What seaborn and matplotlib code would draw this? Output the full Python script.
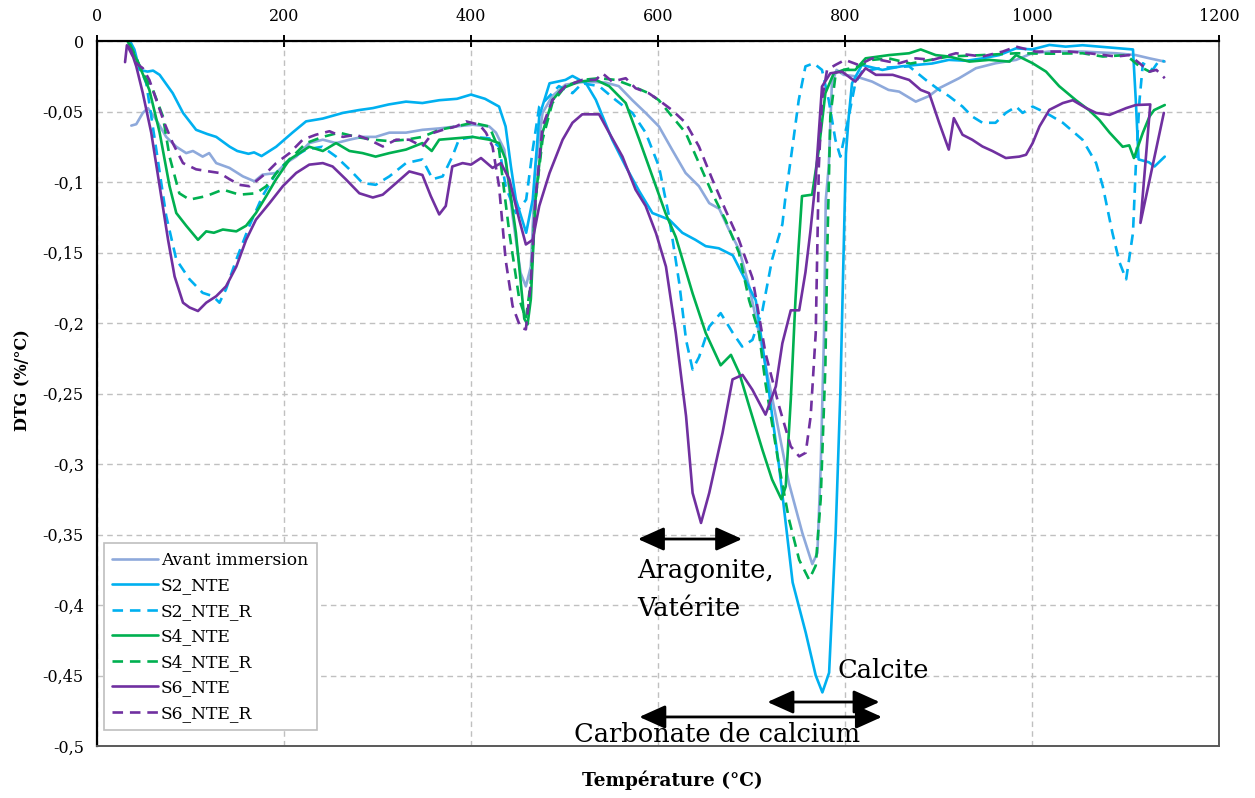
import matplotlib
matplotlib.use("Agg")
import matplotlib.pyplot as plt
from matplotlib.ticker import FuncFormatter
import seaborn as sns
import pandas as pd

# ---------------- data (temperature °C, DTG %/°C) ----------------
avant_immersion = [(36.7,-0.060),(42,-0.059),(49,-0.051),(54.5,-0.0476),(63.4,-0.056),(74,-0.068),(84.8,-0.075),
    (95.4,-0.0795),(102.6,-0.078),(113,-0.082),(120,-0.0795),(127.5,-0.0866),(141.7,-0.090),(156,-0.096),
    (168.4,-0.0995),(177,-0.0948),(191.6,-0.0936),(202,-0.0866),(213,-0.082),(227,-0.0724),(241.5,-0.070),
    (255.7,-0.0724),(270,-0.070),(284,-0.068),(298,-0.068),(312.7,-0.065),(330.5,-0.065),(348,-0.063),
    (366,-0.062),(384,-0.0606),(401.7,-0.0594),(419.5,-0.0606),(426.7,-0.065),(435.6,-0.077),(444.5,-0.124),
    (453,-0.1644),(458.7,-0.174),(464,-0.160),(469,-0.089),(476.5,-0.051),(487,-0.039),(501,-0.031),
    (523,-0.0288),(544,-0.0295),(558,-0.032),(572.6,-0.042),(586.8,-0.051),(601,-0.0606),(615,-0.077),
    (629.5,-0.0936),(643.8,-0.103),(654.8,-0.115),(665.5,-0.119),(675.8,-0.1337),(686.8,-0.148),(697.5,-0.174),
    (711.7,-0.219),(726,-0.266),(740,-0.3135),(754.4,-0.349),(765,-0.371),(770.5,-0.363),(774,-0.302),
    (777.6,-0.207),(779.4,-0.113),(782.6,-0.089),(786,-0.030),(791,-0.0205),(798.6,-0.024),(811,-0.025),
    (829,-0.0288),(846.6,-0.0347),(857.9,-0.0359),(875.7,-0.043),(890,-0.039),(900.7,-0.0335),(922,-0.0264),
    (940,-0.0193),(961,-0.0158),(983,-0.0134),(1000,-0.0087),(1018.6,-0.0075),(1054,-0.0075),(1090,-0.0087),
    (1111,-0.010),(1125.7,-0.0123),(1142,-0.0146)]

s2_nte = [(36,-0.001),(40,-0.006),(45.6,-0.0205),(54,-0.0217),(60,-0.021),(67,-0.024),(81,-0.037),(92,-0.051),
    (106,-0.063),(118,-0.066),(127.5,-0.068),(142,-0.075),(150,-0.078),(162,-0.080),(168,-0.079),(176,-0.0816),
    (191.6,-0.075),(209,-0.065),(223.6,-0.057),(241.5,-0.055),(263,-0.051),(280,-0.049),(295,-0.0476),
    (312,-0.045),(330.5,-0.043),(348,-0.044),(366,-0.042),(385,-0.041),(400,-0.038),(415,-0.041),(430,-0.0465),
    (437,-0.0606),(442.7,-0.089),(448,-0.1125),(459,-0.136),(466,-0.1125),(473,-0.0535),(484,-0.030),
    (501,-0.0276),(508.5,-0.0248),(523,-0.030),(533.5,-0.0417),(551,-0.070),(565.5,-0.089),(580,-0.1066),
    (594,-0.122),(612,-0.1267),(626,-0.136),(640,-0.141),(651,-0.1455),(665,-0.147),(680,-0.152),(690,-0.165),
    (704.6,-0.184),(715,-0.231),(729.5,-0.3017),(744,-0.384),(758,-0.4196),(768.7,-0.450),(775.8,-0.462),
    (783,-0.448),(790,-0.349),(795,-0.25),(798.5,-0.15),(801,-0.08),(804,-0.0535),(807.5,-0.030),(818,-0.017),
    (840,-0.0205),(860,-0.018),(875.7,-0.017),(893,-0.016),(911,-0.0134),(930,-0.014),(947,-0.0123),
    (965,-0.010),(983,-0.0052),(1000,-0.006),(1018.6,-0.0028),(1036,-0.004),(1054,-0.003),(1072,-0.004),
    (1090,-0.005),(1108,-0.006),(1111,-0.042),(1114,-0.084),(1125,-0.086),(1131,-0.089),(1142,-0.082)]

s2_nte_r = [(36,-0.002),(42,-0.012),(52.7,-0.030),(63.4,-0.077),(74,-0.124),(84.8,-0.155),(99,-0.169),
    (113,-0.1786),(124,-0.181),(131,-0.1856),(138,-0.176),(149,-0.155),(163,-0.131),(177,-0.110),
    (191.6,-0.0936),(206,-0.084),(223.6,-0.077),(241,-0.075),(255.7,-0.082),(270,-0.091),(284,-0.1007),
    (298,-0.102),(312.7,-0.096),(330.5,-0.0866),(348,-0.084),(359,-0.098),(369.7,-0.096),(380,-0.082),
    (387,-0.070),(401.7,-0.068),(419.5,-0.069),(430,-0.075),(437,-0.103),(448,-0.122),(459,-0.1125),
    (466,-0.077),(473,-0.0465),(484,-0.039),(494,-0.032),(508.5,-0.037),(519,-0.030),(537,-0.032),
    (555,-0.042),(572.6,-0.051),(586.8,-0.065),(601,-0.089),(611.7,-0.124),(622.8,-0.172),(630,-0.212),
    (637,-0.233),(644,-0.224),(654.8,-0.2026),(667,-0.193),(680,-0.207),(690,-0.2167),(701,-0.212),
    (711.7,-0.191),(722,-0.155),(733,-0.13),(736,-0.1125),(743.4,-0.077),(750.5,-0.042),(757.7,-0.018),
    (766.5,-0.0158),(775.4,-0.0205),(782.6,-0.042),(789.7,-0.070),(795,-0.082),(804,-0.0535),(811,-0.030),
    (818,-0.0217),(840,-0.019),(868.6,-0.018),(886.4,-0.0276),(900.7,-0.0347),(911,-0.039),(925.7,-0.0465),
    (936,-0.0535),(947,-0.058),(961,-0.058),(972,-0.051),(983,-0.0465),(990,-0.051),(1000.7,-0.0465),
    (1015,-0.051),(1033,-0.058),(1054,-0.070),(1068.6,-0.0866),(1075.7,-0.103),(1086,-0.136),(1093.6,-0.157),
    (1100.7,-0.169),(1108,-0.136),(1111,-0.089),(1115,-0.042),(1118.6,-0.0158),(1129,-0.0205),
    (1136.4,-0.0134),(1142,-0.0146)]

s4_nte = [(33,-0.0005),(40,-0.010),(45.6,-0.018),(56,-0.0347),(67,-0.065),(77.6,-0.103),(84.8,-0.122),
    (95.4,-0.131),(108,-0.141),(116.8,-0.135),(125,-0.136),(134.6,-0.1337),(149,-0.135),(159.5,-0.131),
    (170,-0.122),(181,-0.110),(191.6,-0.098),(206,-0.084),(216.5,-0.0795),(227,-0.075),(241.5,-0.078),
    (255.7,-0.0724),(270,-0.078),(284,-0.0795),(298,-0.082),(312.7,-0.0795),(330.5,-0.077),(348,-0.0724),
    (358,-0.078),(366,-0.070),(384,-0.069),(401.7,-0.068),(419.5,-0.070),(430,-0.0724),(437,-0.084),
    (448,-0.136),(457,-0.197),(460.5,-0.201),(464,-0.183),(469,-0.1125),(476.5,-0.065),(487,-0.042),
    (497.9,-0.0335),(515.7,-0.0288),(533.5,-0.0276),(547.7,-0.032),(565.5,-0.044),(580,-0.070),(594,-0.096),
    (608,-0.122),(619,-0.139),(637,-0.179),(651,-0.207),(667,-0.230),(678,-0.2226),(687,-0.2356),
    (697.5,-0.259),(711.7,-0.290),(722,-0.311),(732,-0.325),(736.6,-0.316),(742,-0.2545),(747,-0.1837),
    (750,-0.150),(754,-0.110),(764.8,-0.109),(772,-0.077),(779,-0.037),(788,-0.0229),(798.6,-0.0205),
    (811,-0.0205),(822,-0.0123),(847,-0.010),(868.6,-0.0087),(881,-0.006),(897,-0.010),(911,-0.011),
    (933,-0.0146),(954,-0.0134),(976,-0.0146),(983,-0.010),(1000.7,-0.0158),(1015,-0.0217),(1029,-0.032),
    (1047,-0.042),(1061,-0.049),(1072,-0.056),(1083,-0.065),(1097,-0.075),(1104,-0.074),(1109,-0.083),
    (1118.6,-0.065),(1125.7,-0.0535),(1130.6,-0.049),(1142,-0.0454)]

s4_nte_r = [(35,-0.002),(42,-0.012),(49,-0.023),(60,-0.035),(70.5,-0.0535),(77.6,-0.082),(88,-0.108),
    (99,-0.1125),(116.8,-0.110),(134.6,-0.1054),(152.4,-0.109),(170,-0.108),(181,-0.103),(195,-0.091),
    (209,-0.082),(223.6,-0.0724),(241.5,-0.068),(259,-0.065),(277,-0.068),(295,-0.070),(312.7,-0.071),
    (330.5,-0.070),(348,-0.068),(366,-0.063),(384,-0.0606),(401.7,-0.058),(419.6,-0.0606),(430,-0.077),
    (441,-0.136),(451.6,-0.183),(458.7,-0.197),(464,-0.171),(469,-0.1125),(476.5,-0.070),(487,-0.044),
    (501,-0.032),(519,-0.0276),(537,-0.0264),(555,-0.0276),(572.6,-0.032),(590,-0.037),(601,-0.042),
    (615,-0.0535),(629.5,-0.065),(643.8,-0.0866),(658,-0.108),(672,-0.1267),(686.5,-0.150),(697.5,-0.184),
    (708,-0.207),(715,-0.243),(729.5,-0.3017),(740,-0.339),(751,-0.368),(761.6,-0.382),(768.7,-0.372),
    (774,-0.325),(779,-0.231),(781,-0.15),(784.3,-0.0535),(789.7,-0.025),(798.6,-0.0205),(814.6,-0.018),
    (829,-0.0134),(846.6,-0.0123),(870,-0.016),(911,-0.011),(947,-0.010),(983,-0.0087),(1020,-0.009),
    (1054,-0.0087),(1075.7,-0.011),(1100.7,-0.010),(1115,-0.018),(1125.7,-0.0217),(1136,-0.019)]

s6_nte = [(30,-0.015),(32,-0.003),(36,-0.006),(42,-0.018),(49,-0.037),(58,-0.065),(67,-0.103),(76,-0.141),
    (83,-0.167),(92,-0.1856),(99,-0.189),(108,-0.1915),(116.8,-0.1856),(127.5,-0.181),(138,-0.174),
    (149,-0.160),(159.5,-0.141),(170,-0.1267),(184.5,-0.115),(198.7,-0.103),(213,-0.0936),(227,-0.0877),
    (241.5,-0.0866),(252,-0.089),(266,-0.098),(280.6,-0.108),(295,-0.111),(305.6,-0.109),(320,-0.1007),
    (334,-0.0925),(348,-0.095),(357,-0.110),(366,-0.123),(373,-0.117),(380,-0.089),(391,-0.0866),
    (400,-0.0877),(410.7,-0.083),(423,-0.090),(432,-0.0866),(441,-0.098),(451.6,-0.1267),(458.7,-0.1443),
    (466,-0.141),(473,-0.117),(484,-0.0936),(498,-0.070),(508.5,-0.058),(519,-0.052),(537,-0.052),
    (547.7,-0.065),(562,-0.082),(576,-0.1054),(586.8,-0.117),(598,-0.1366),(608.5,-0.160),(619,-0.207),
    (630,-0.266),(637,-0.3205),(646,-0.3418),(654.8,-0.3205),(669,-0.278),(679.7,-0.240),(690.4,-0.2368),
    (701,-0.2474),(715,-0.265),(726,-0.245),(733,-0.2144),(742,-0.191),(751,-0.191),(757.7,-0.164),
    (763,-0.135),(768.3,-0.1007),(775.4,-0.0323),(784.3,-0.0229),(796.8,-0.0217),(811,-0.0288),
    (822,-0.0193),(833,-0.024),(851,-0.024),(868.6,-0.0276),(881,-0.0347),(890,-0.037),(900.7,-0.058),
    (911,-0.077),(916.4,-0.0547),(925.7,-0.0665),(936,-0.070),(947,-0.0748),(957.6,-0.078),(972,-0.083),
    (986.4,-0.082),(993.6,-0.0807),(1000.7,-0.0724),(1008,-0.0606),(1018.6,-0.0488),(1033,-0.044),
    (1043.6,-0.042),(1058,-0.0476),(1068.6,-0.051),(1083,-0.0524),(1100.7,-0.0476),(1111,-0.0454),
    (1126.5,-0.045),(1116,-0.129),(1141,-0.051)]

s6_nte_r = [(33,-0.004),(42,-0.0158),(49,-0.0193),(56,-0.0276),(63.4,-0.0417),(72,-0.058),(81,-0.0724),
    (92,-0.0866),(106,-0.091),(120,-0.0925),(131,-0.0936),(141.7,-0.098),(152.4,-0.102),(163,-0.103),
    (170,-0.0995),(181,-0.0936),(191.6,-0.0866),(206,-0.0795),(220,-0.070),(234,-0.0665),(248.6,-0.064),
    (263,-0.068),(277,-0.0665),(291,-0.070),(305.6,-0.0748),(320,-0.070),(334,-0.070),(348,-0.0748),
    (359,-0.0653),(370,-0.063),(384,-0.0606),(394.6,-0.057),(409,-0.0594),(416,-0.065),(423,-0.0748),
    (430,-0.103),(437,-0.155),(444.5,-0.188),(453,-0.2033),(458.7,-0.2045),(464,-0.171),(469,-0.1125),
    (476.5,-0.0606),(487,-0.042),(501,-0.032),(519,-0.0276),(533.5,-0.0276),(540.6,-0.0229),(551,-0.0288),
    (565.5,-0.0264),(576,-0.0335),(590,-0.037),(601,-0.042),(615,-0.049),(629.5,-0.058),(643.8,-0.0748),
    (658,-0.098),(672,-0.1196),(686.5,-0.141),(701,-0.168),(715,-0.2215),(729.5,-0.259),(742,-0.2875),
    (751,-0.2946),(758,-0.292),(763.3,-0.266),(768.7,-0.207),(772,-0.089),(775.4,-0.042),(780.8,-0.0205),
    (789.7,-0.017),(800,-0.0134),(814.6,-0.017),(829,-0.0123),(846.6,-0.0146),(857.9,-0.0158),
    (875.7,-0.0123),(893.6,-0.0134),(918.6,-0.0087),(947,-0.011),(968.6,-0.0075),(983,-0.004),
    (1004,-0.0075),(1040,-0.0075),(1061,-0.0087),(1090,-0.011),(1104,-0.010),(1115,-0.0158),
    (1125.7,-0.0217),(1133,-0.0205),(1142,-0.0264)]

series_labels = ["Avant immersion", "S2_NTE", "S2_NTE_R", "S4_NTE", "S4_NTE_R", "S6_NTE", "S6_NTE_R"]
series_data = [avant_immersion, s2_nte, s2_nte_r, s4_nte, s4_nte_r, s6_nte, s6_nte_r]
series_colors = ["#8EA9DB", "#00B0F0", "#00B0F0", "#00B050", "#00B050", "#7030A0", "#7030A0"]
series_dashed = [False, False, True, False, True, False, True]

x_ticks = [0, 200, 400, 600, 800, 1000, 1200]
y_ticks = [0, -0.05, -0.1, -0.15, -0.2, -0.25, -0.3, -0.35, -0.4, -0.45, -0.5]

annotation_texts = ["Aragonite,\nVatérite", "Calcite", "Carbonate de calcium"]

# ---------------- plotting ----------------
sns.set_style("white")
plt.rcParams["font.family"] = ["DejaVu Serif"]
plt.rcParams["text.color"] = "black"
plt.rcParams["axes.labelcolor"] = "black"
plt.rcParams["xtick.color"] = "black"
plt.rcParams["ytick.color"] = "black"

fig = plt.figure(figsize=(12.55, 7.98), dpi=100)
ax = fig.add_axes([97/1255, 52/798, 1122/1255, 705/798])

for lab, dat, col, dashed in zip(series_labels, series_data, series_colors, series_dashed):
    df = pd.DataFrame(dat, columns=["T", "DTG"])
    ls = (0, (4, 2.6)) if dashed else "-"
    sns.lineplot(data=df, x="T", y="DTG", ax=ax, sort=False, estimator=None,
                 color=col, linewidth=1.9, linestyle=ls, label=lab)

ax.set_xlim(0, 1200)
ax.set_ylim(-0.5, 0)
ax.set_xticks(x_ticks)
ax.set_yticks(y_ticks)
ax.xaxis.tick_top()
ax.xaxis.set_label_position("top")


def yfmt(v, pos):
    if abs(v) < 1e-9:
        return "0"
    return f"{v:g}".replace(".", ",")


ax.yaxis.set_major_formatter(FuncFormatter(yfmt))
ax.tick_params(axis="both", labelsize=11.5, colors="black", labelcolor="black",
               direction="inout", length=9, width=1.4)
ax.tick_params(axis="x", pad=7)
ax.tick_params(axis="y", pad=5)

ax.grid(True, linestyle=(0, (4, 3)), color="#C0C0C0", linewidth=1.0)
ax.set_axisbelow(True)

for side in ["top", "left"]:
    ax.spines[side].set_color("black")
    ax.spines[side].set_linewidth(1.6)
for side in ["bottom", "right"]:
    ax.spines[side].set_color("#595959")
    ax.spines[side].set_linewidth(1.4)

ax.set_xlabel("")
ax.set_ylabel("")

fig.text(23/1255, 1 - 380/798, "DTG (%/°C)", rotation=90, ha="center", va="center",
         fontsize=11.5, fontweight="bold", color="black")
fig.text(672/1255, 1 - 780/798, "Température (°C)", ha="center", va="center",
         fontsize=13.3, fontweight="bold", color="black")

leg = ax.legend(loc="lower left", bbox_to_anchor=(0.006, 0.022), borderaxespad=0,
                frameon=True, fancybox=False, framealpha=1, edgecolor="#BFBFBF",
                fontsize=12.3, handlelength=2.7, handletextpad=0.15, labelspacing=0.5,
                borderpad=0.5)
leg.get_frame().set_linewidth(1.2)
for t in leg.get_texts():
    t.set_color("black")

arrow_kw = dict(arrowstyle="<|-|>,head_length=0.8,head_width=0.36", color="black", lw=2,
                mutation_scale=20, shrinkA=0, shrinkB=0)
ax.annotate("", xy=(690, -0.3532), xytext=(578.5, -0.3532), arrowprops=arrow_kw)
ax.annotate("", xy=(837, -0.4688), xytext=(717, -0.4688), arrowprops=arrow_kw)
ax.annotate("", xy=(839.5, -0.4794), xytext=(580, -0.4794), arrowprops=arrow_kw,
            annotation_clip=False)

ax.text(578, -0.3665, annotation_texts[0], ha="left", va="top", fontsize=18.5, linespacing=1.68)
ax.text(792, -0.4515, annotation_texts[1], ha="left", va="baseline", fontsize=18.5)
ax.text(510.5, -0.4975, annotation_texts[2], ha="left", va="baseline", fontsize=18.5, clip_on=False)

fig.savefig("out.png", dpi=100)
